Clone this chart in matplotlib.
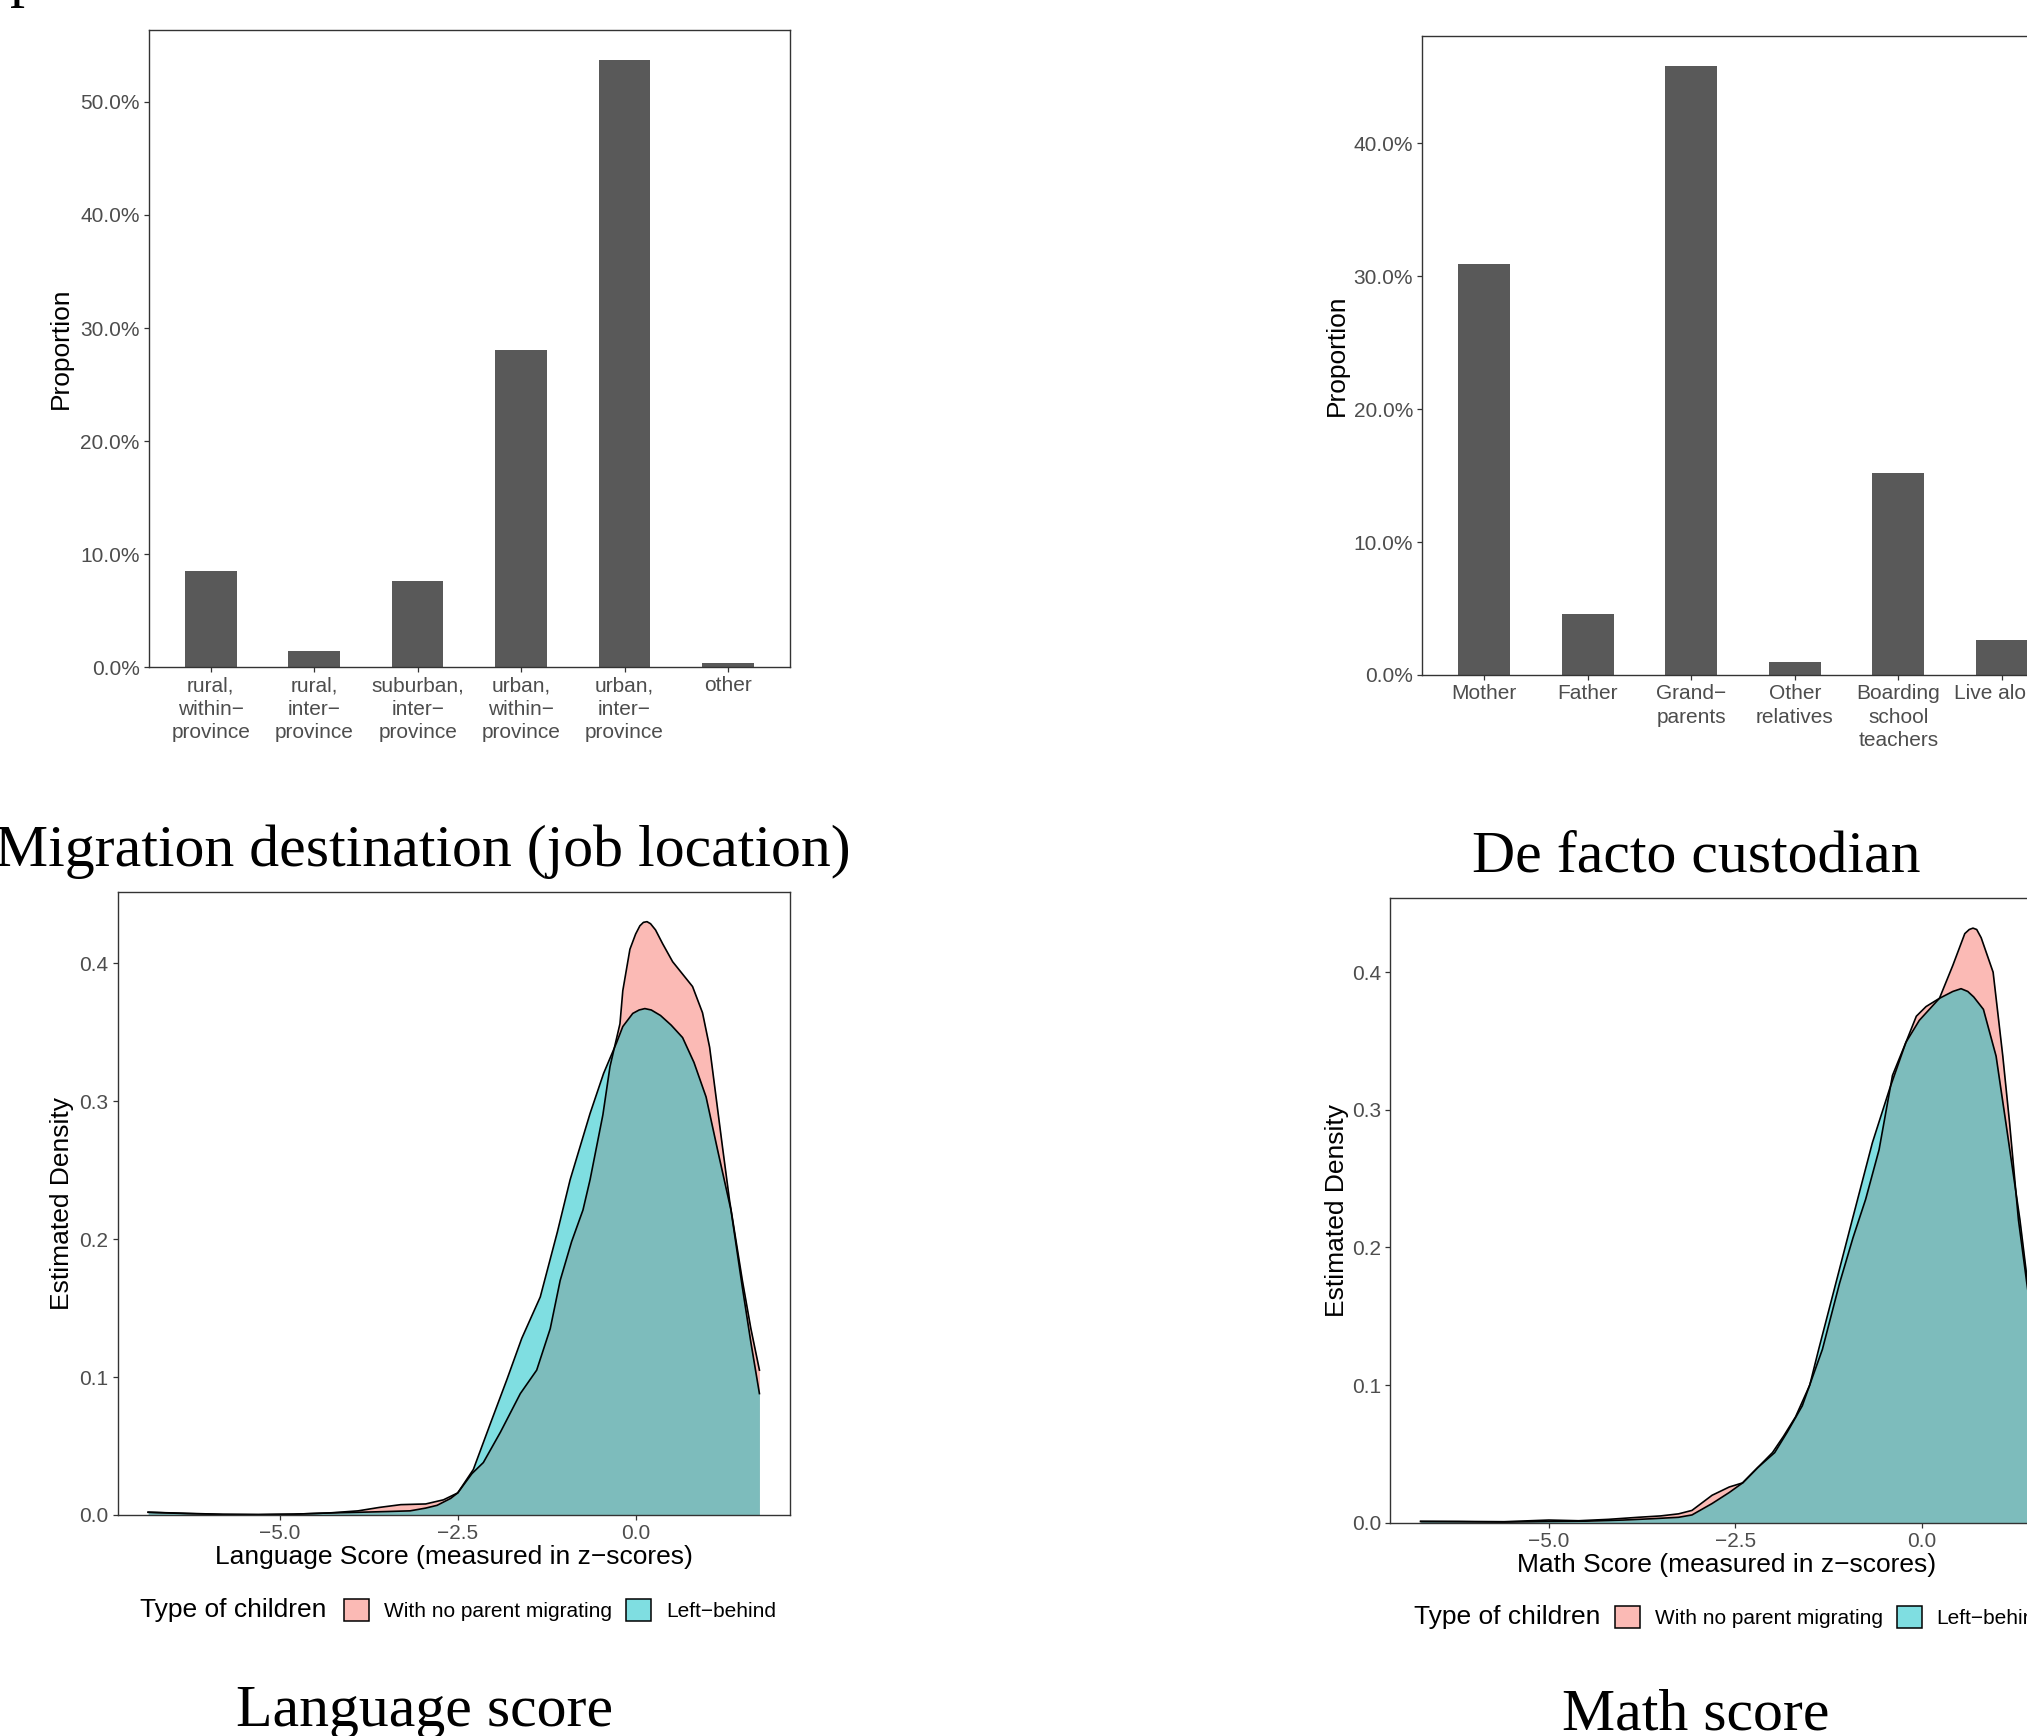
"""Four-panel figure: migration destination, de facto custodian, score densities."""
import matplotlib

matplotlib.use("Agg")
import matplotlib.pyplot as plt
from matplotlib.colors import to_rgba
from matplotlib.patches import Patch
from matplotlib.ticker import FuncFormatter, MultipleLocator, PercentFormatter

# ---- data -------------------------------------------------------------
dest_labels = ["rural,\nwithin\u2212\nprovince", "rural,\ninter\u2212\nprovince",
               "suburban,\ninter\u2212\nprovince", "urban,\nwithin\u2212\nprovince",
               "urban,\ninter\u2212\nprovince", "other"]
dest_share = [0.085, 0.0145, 0.076, 0.281, 0.537, 0.004]

cust_labels = ["Mother", "Father", "Grand\u2212\nparents", "Other\nrelatives",
               "Boarding\nschool\nteachers", "Live alone"]
cust_share = [0.309, 0.046, 0.458, 0.010, 0.152, 0.026]

group_labels = ["With no parent migrating", "Left\u2212behind"]

# language score densities (x in z-scores, y density)
lang_x_stay = [-6.85, -6.3, -5.8, -5.3, -4.8, -4.3, -3.9, -3.6, -3.3, -2.95, -2.7, -2.5,
               -2.3, -2.14, -1.9, -1.62, -1.39, -1.2, -1.06, -0.9, -0.74, -0.64, -0.46,
               -0.36, -0.22, -0.18, -0.08, 0.0, 0.06, 0.11, 0.16, 0.21, 0.28, 0.38, 0.52,
               0.66, 0.80, 0.94, 1.04, 1.13, 1.22, 1.32, 1.50, 1.62, 1.74]
lang_y_stay = [0.002, 0.0012, 0.0005, 0.0003, 0.0006, 0.0015, 0.003, 0.0055, 0.0075, 0.008,
               0.011, 0.016, 0.030, 0.038, 0.060, 0.088, 0.105, 0.135, 0.170, 0.198, 0.221,
               0.243, 0.290, 0.325, 0.356, 0.380, 0.410, 0.421, 0.427, 0.4295, 0.430,
               0.4285, 0.424, 0.414, 0.401, 0.392, 0.383, 0.364, 0.339, 0.303, 0.267,
               0.228, 0.170, 0.135, 0.105]
lang_x_lb = [-6.85, -6.3, -5.8, -5.3, -4.8, -4.3, -3.87, -3.5, -3.17, -2.95, -2.79, -2.6,
             -2.5, -2.28, -2.05, -1.81, -1.6, -1.34, -1.1, -0.92, -0.64, -0.45, -0.27,
             -0.18, -0.04, 0.05, 0.13, 0.22, 0.35, 0.50, 0.66, 0.82, 0.99, 1.15, 1.34,
             1.50, 1.62, 1.74]
lang_y_lb = [0.002, 0.001, 0.0004, 0.0003, 0.0006, 0.0015, 0.002, 0.0025, 0.003, 0.005,
             0.007, 0.012, 0.016, 0.033, 0.065, 0.098, 0.128, 0.158, 0.205, 0.243, 0.291,
             0.320, 0.342, 0.354, 0.3635, 0.366, 0.367, 0.366, 0.362, 0.355, 0.346,
             0.328, 0.303, 0.265, 0.221, 0.165, 0.125, 0.088]

# math score densities
math_x_stay = [-6.72, -6.2, -5.6, -5.0, -4.6, -4.2, -3.8, -3.5, -3.26, -3.08, -2.81, -2.58,
               -2.40, -2.2, -1.97, -1.80, -1.60, -1.33, -1.10, -0.92, -0.75, -0.57, -0.39,
               -0.21, -0.07, 0.06, 0.24, 0.42, 0.58, 0.64, 0.69, 0.74, 0.80, 0.96, 1.09,
               1.18, 1.30, 1.41, 1.50]
math_y_stay = [0.001, 0.001, 0.0008, 0.002, 0.0015, 0.0025, 0.004, 0.005, 0.0065, 0.009,
               0.020, 0.026, 0.029, 0.040, 0.051, 0.066, 0.085, 0.126, 0.174, 0.207, 0.235,
               0.271, 0.325, 0.349, 0.368, 0.375, 0.381, 0.405, 0.428, 0.431, 0.432, 0.431,
               0.425, 0.400, 0.339, 0.291, 0.220, 0.175, 0.140]
math_x_lb = [-6.72, -6.2, -5.6, -5.0, -4.5, -4.0, -3.6, -3.26, -3.08, -2.81, -2.58, -2.40,
             -2.2, -2.0, -1.85, -1.69, -1.50, -1.38, -1.15, -0.93, -0.66, -0.43, -0.21,
             -0.03, 0.24, 0.42, 0.53, 0.62, 0.70, 0.83, 1.00, 1.13, 1.32, 1.41, 1.50]
math_y_lb = [0.001, 0.0008, 0.0005, 0.001, 0.0012, 0.002, 0.003, 0.004, 0.0057, 0.014,
             0.022, 0.029, 0.040, 0.051, 0.063, 0.077, 0.100, 0.126, 0.174, 0.220, 0.276,
             0.315, 0.349, 0.365, 0.381, 0.386, 0.388, 0.386, 0.382, 0.373, 0.339, 0.291,
             0.220, 0.180, 0.145]

PINK = "#F8766D"
TEAL = "#00BFC4"
BAR = "#595959"
SANS = "Liberation Sans"
SERIF = "Liberation Serif"

W, H = 2027, 1736
fig = plt.figure(figsize=(W / 100, H / 100), dpi=100)
plt.rcParams["font.family"] = SANS


def add_axes(left, top, right, bottom):
    # pixel box -> figure fraction (right panels run past the canvas edge)
    return fig.add_axes([left / W, 1 - bottom / H, (right - left) / W, (bottom - top) / H])


def style(ax):
    for s in ax.spines.values():
        s.set_color("#333333")
        s.set_linewidth(1.0)
    ax.tick_params(length=3.5, width=0.9, color="#333333", labelcolor="#4D4D4D",
                   labelsize=15, pad=3)


def bar_panel(ax, labels, values, ylab_x):
    n = len(values)
    pos = list(range(1, n + 1))
    ax.bar(pos, values, width=0.5, color=BAR)
    ax.set_xlim(0.4, n + 0.6)
    ax.set_ylim(0, max(values) * 1.05)
    ax.yaxis.set_major_locator(MultipleLocator(0.1))
    ax.yaxis.set_major_formatter(PercentFormatter(xmax=1, decimals=1))
    ax.set_xticks(pos)
    ax.set_xticklabels(labels, linespacing=1.3)
    style(ax)
    ax.set_ylabel("Proportion", fontsize=19, va="center")
    ax.yaxis.set_label_coords(ylab_x, 0.5)


def density_panel(ax, curves, xlab, ylab_x, xlab_y):
    xs_all = [v for c in curves for v in c[0]]
    lo, hi = min(xs_all), max(xs_all)
    pad = 0.05 * (hi - lo)
    ymax = max(v for c in curves for v in c[1])
    for xs, ys, col in curves:
        ax.fill_between(xs, 0, ys, color=col, alpha=0.5, lw=0)
        ax.plot(xs, ys, color="black", lw=1.2, solid_joinstyle="round")
    ax.set_xlim(lo - pad, hi + pad)
    ax.set_ylim(0, ymax * 1.05)
    ax.set_xticks([-5.0, -2.5, 0.0])
    ax.xaxis.set_major_formatter(FuncFormatter(lambda v, p: f"{v:.1f}".replace("-", "\u2212")))
    ax.yaxis.set_major_locator(MultipleLocator(0.1))
    ax.yaxis.set_major_formatter(FuncFormatter(lambda v, p: f"{v:.1f}"))
    style(ax)
    ax.set_ylabel("Estimated Density", fontsize=19, va="center")
    ax.yaxis.set_label_coords(ylab_x, 0.5)
    ax.set_xlabel(xlab, fontsize=19, va="center")
    ax.xaxis.set_label_coords(0.5, xlab_y)


def legend_row(title_x, key_x, y):
    fig.text(title_x / W, 1 - y / H, "Type of children", fontsize=19, ha="left", va="center")
    handles = [Patch(facecolor=to_rgba(PINK, 0.5), edgecolor="black", lw=1.1),
               Patch(facecolor=to_rgba(TEAL, 0.5), edgecolor="black", lw=1.1)]
    fig.legend(handles, group_labels, loc="center left", ncol=2, frameon=False,
               bbox_to_anchor=(key_x / W, 1 - y / H), fontsize=15,
               handlelength=1.2, handleheight=1.2, handletextpad=0.7,
               columnspacing=0.7, borderpad=0, borderaxespad=0)


# top-left: migration destination
ax1 = add_axes(148.7, 29.7, 790, 667.3)
bar_panel(ax1, dest_labels, dest_share, -0.137)

# top-right: de facto custodian
ax2 = add_axes(1422, 36, 2064, 675)
bar_panel(ax2, cust_labels, cust_share, -0.133)

# bottom-left: language score
ax3 = add_axes(117.6, 892, 790, 1515)
density_panel(ax3, [(lang_x_stay, lang_y_stay, PINK), (lang_x_lb, lang_y_lb, TEAL)],
              "Language Score (measured in z\u2212scores)", -0.083, -0.068)
legend_row(139.7, 344, 1610)

# bottom-right: math score
ax4 = add_axes(1390, 898.4, 2064, 1522.8)
density_panel(ax4, [(math_x_stay, math_y_stay, PINK), (math_x_lb, math_y_lb, TEAL)],
              "Math Score (measured in z\u2212scores)", -0.079, -0.067)
legend_row(1413.6, 1615, 1617)

# serif panel captions
caps = [("Migration destination (job location)", 423, 852),
        ("De facto custodian", 1696, 858),
        ("Language score", 425, 1712),
        ("Math score", 1696, 1716)]
for txt, cx, cy in caps:
    fig.text(cx / W, 1 - cy / H, txt, family=SERIF, fontsize=43, ha="center", va="center")

# descender of a cut-off heading above the figure
fig.text(10 / W, 1 + 5 / H, "p", family=SERIF, fontsize=43, ha="left", va="baseline")

fig.savefig("out.png", dpi=100)
